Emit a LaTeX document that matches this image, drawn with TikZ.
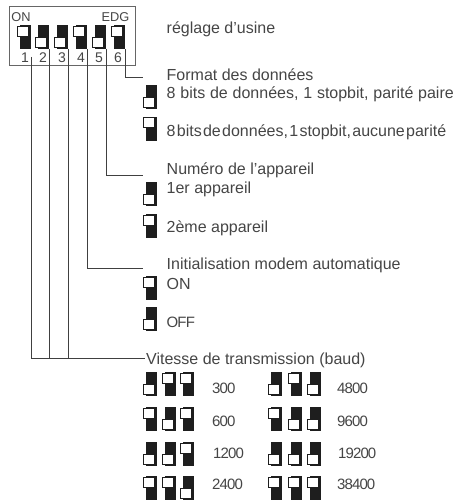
\documentclass[tikz,border=0pt]{standalone}
\usepackage{fontspec}
\setmainfont{Liberation Sans}
\newfontfamily\valfam[LetterSpace=-6]{Liberation Sans}
\newcommand{\tightsp}{\spaceskip 1.3pt\relax}
\newcommand{\widesp}{\spaceskip 4.8pt\relax}
\definecolor{ink}{HTML}{454545}
\definecolor{swk}{HTML}{1E1E1E}
\definecolor{wire}{HTML}{404040}
\tikzset{
  lab/.style={anchor=west,inner sep=0pt,text=ink,font=\fontsize{16}{18}\selectfont},
  tight/.style={anchor=west,inner sep=0pt,text=ink,font=\fontsize{16}{18}\selectfont\tightsp},
  wide/.style={anchor=west,inner sep=0pt,text=ink,font=\fontsize{16}{18}\selectfont\widesp},
  val/.style={anchor=west,inner sep=0pt,text=ink,font=\valfam\fontsize{15}{18}\selectfont},
  num/.style={anchor=center,inner sep=0pt,text=ink,font=\fontsize{14}{17}\selectfont},
  tag/.style={anchor=center,inner sep=0pt,text=ink,font=\fontsize{12.8}{15}\selectfont},
  wirel/.style={draw=wire,line width=0.8pt},
  body/.style={fill=swk,draw=none,inner sep=0pt,minimum width=11pt,minimum height=24pt},
  knob/.style={fill=white,draw=swk,line width=1pt,inner sep=0pt,minimum width=11pt,minimum height=10pt}
}
% name, left of black body, top
\newcommand{\swup}[3]{%
  \node[body,anchor=north west] (#1) at (#2,#3) {};
  \node[knob,anchor=north west] (#1k) at (#2-2.7,#3+0.8) {};}
\newcommand{\swdn}[3]{%
  \node[body,anchor=north west] (#1) at (#2,#3) {};
  \node[knob,anchor=south west] (#1k) at (#2-2.7,#3+23.2) {};}
\begin{document}
\begin{tikzpicture}[x=1pt,y=-1pt]
\useasboundingbox (0,0) rectangle (461,500);
\coordinate (f6) at (143,77);
\coordinate (f5) at (143,175.5);
\coordinate (f4) at (143,268.5);
\coordinate (f3) at (145,358.5);
\coordinate (t1) at (31,57);
\node[draw=wire!80,line width=0.8pt,anchor=north west,inner sep=0pt,minimum width=126pt,minimum height=59pt] (box) at (8.5,6.5) {};
\node[tag] (on) at (21,17.5) {ON};
\node[tag] (edg) at (115.5,17.5) {EDG};
\swup{s1}{19.5}{25}
\swdn{s2}{38}{25}
\swdn{s3}{57}{25}
\swup{s4}{76}{25}
\swdn{s5}{95}{25}
\swup{s6}{114}{25}
\node[num] (n1) at (25,58) {1};
\node[num] (n2) at (43,58) {2};
\node[num] (n3) at (62,58) {3};
\node[num] (n4) at (81,58) {4};
\node[num] (n5) at (99,58) {5};
\node[num] (n6) at (118,58) {6};
\draw[wirel] (t1) |- (f3);
\draw[wirel] (s2.south east) |- (f3);
\draw[wirel] (s3.south east) |- (f3);
\draw[wirel] (s4.south east) |- (f4);
\draw[wirel] (s5.south east) |- (f5);
\draw[wirel] (s6.south east) |- (f6);
\node[lab] (t0) at (166.5,29) {réglage d’usine};
\node[lab] (t1a) at (166.5,75) {Format des données};
\node[wide] (t1b) at (166.5,94) {8 bits de données, 1 stopbit, parité paire};
\node[tight] (t1c) at (166.5,132) {8 bits de données, 1 stopbit, aucune parité};
\swdn{f1}{146}{84.5}
\swup{f2}{146}{116.5}
\node[lab] (t2a) at (166.5,170) {Numéro de l’appareil};
\node[lab] (t2b) at (166.5,189) {1er appareil};
\node[lab] (t2c) at (166.5,228) {2ème appareil};
\swdn{g1}{146}{182}
\swup{g2}{146}{214}
\node[lab] (t3a) at (166.5,265) {Initialisation modem automatique};
\node[lab] (t3b) at (166.5,284) {ON};
\node[val] (t3c) at (166.5,322) {OFF};
\swup{h1}{146}{276}
\swdn{h2}{146}{307}
\node[lab] (t4) at (146,360) {Vitesse de transmission (baud)};
\swdn{b11}{146}{372}\swup{b12}{165}{372}\swup{b13}{183}{372}
\swup{b21}{146}{407}\swdn{b22}{165}{407}\swup{b23}{183}{407}
\swdn{b31}{146}{442}\swdn{b32}{165}{442}\swup{b33}{183}{442}
\swup{b41}{146}{476}\swup{b42}{165}{476}\swdn{b43}{183}{476}
\swdn{c11}{271}{372}\swup{c12}{290.5}{372}\swdn{c13}{309.5}{372}
\swup{c21}{271}{407}\swdn{c22}{290.5}{407}\swdn{c23}{309.5}{407}
\swdn{c31}{271}{442}\swdn{c32}{290.5}{442}\swdn{c33}{309.5}{442}
\swup{c41}{271}{476}\swup{c42}{290.5}{476}\swup{c43}{309.5}{476}
\node[val] (r1) at (212,388) {300};
\node[val] (r2) at (212,421) {600};
\node[val] (r3) at (213,453) {1200};
\node[val] (r4) at (212,484) {2400};
\node[val] (q1) at (337,388) {4800};
\node[val] (q2) at (337,421) {9600};
\node[val] (q3) at (338,453) {19200};
\node[val] (q4) at (337,484) {38400};
\end{tikzpicture}
\end{document}
